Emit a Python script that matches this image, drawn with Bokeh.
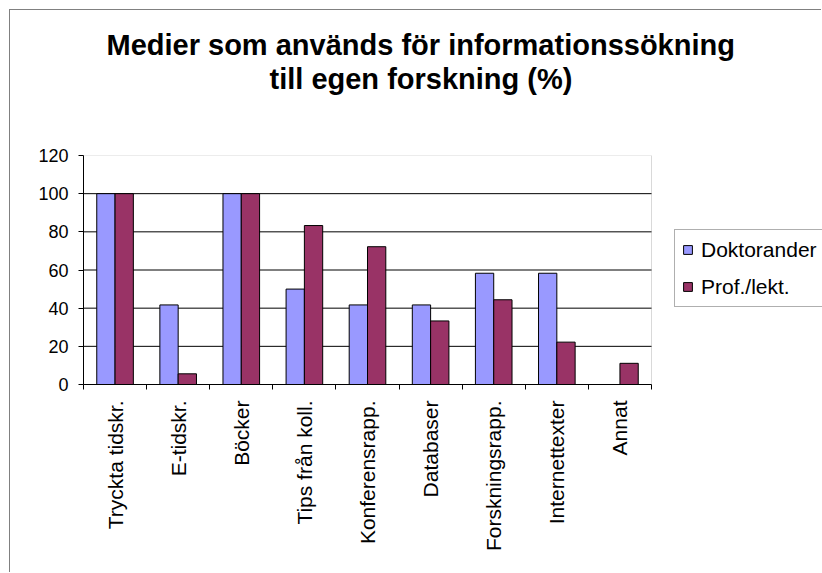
import math
from bokeh.plotting import figure
from bokeh.models import (Range1d, FixedTicker, Legend, LegendItem, Title,
                          ColumnDataSource, BoxAnnotation)
from bokeh.transform import dodge
from bokeh.embed import file_html
from bokeh.resources import INLINE

categories = ["Tryckta tidskr.", "E-tidskr.", "Böcker", "Tips från koll.",
              "Konferensrapp.", "Databaser", "Forskningsrapp.", "Internettexter", "Annat"]
doktorander = [100, 41.7, 100, 50, 41.7, 41.7, 58.3, 58.3, 0]
prof_lekt = [100, 5.6, 100, 83.3, 72.2, 33.3, 44.4, 22.2, 11.1]
y_ticks = [0, 20, 40, 60, 80, 100, 120]
title_lines = ["Medier som används för informationssökning", "till egen forskning (%)"]

FONT = "Liberation Sans"
n = len(categories)
y_max = y_ticks[-1]
centers = [i + 0.5 for i in range(n)]  # category slot centres on the x scale
grid_vals = y_ticks[1:-1]

# plot area is 568px wide inside a 739px frame (legend lives to its right)
PLOT_W, FRAME_W = 568, 739

src = ColumnDataSource(dict(pos=centers, cat=categories, dok=doktorander, prof=prof_lekt))

p = figure(width=812, height=563, x_range=Range1d(0, n * FRAME_W / PLOT_W),
           y_range=Range1d(0, y_max), title=None,
           output_backend="svg", toolbar_location=None,
           min_border_left=73, min_border_right=0, min_border_top=145,
           min_border_bottom=189)
p.styles = {"margin-left": "9px", "margin-top": "9px",
            "border-left": "1px solid #808080", "border-top": "1px solid #808080"}
p.background_fill_color = "white"
p.border_fill_color = "white"
p.outline_line_color = None

# plot-area border
p.add_layout(BoxAnnotation(left=0, right=n, bottom=0, top=y_max, fill_color=None,
                           line_color="#808080", line_width=1, level="underlay"))

# gridlines limited to the plot area (drawn before the bars)
p.segment(x0=[0] * len(grid_vals), x1=[n] * len(grid_vals), y0=grid_vals, y1=grid_vals,
          line_color="black", line_width=1)
p.ygrid.grid_line_color = None
p.xgrid.grid_line_color = None

# bars
r1 = p.vbar(x=dodge("pos", -0.145), top="dok", width=0.29,
            source=src, fill_color="#9999FF", line_color="black", line_width=1)
r2 = p.vbar(x=dodge("pos", 0.145), top="prof", width=0.29,
            source=src, fill_color="#993366", line_color="black", line_width=1)

# y axis
yax = p.yaxis[0]
yax.ticker = FixedTicker(ticks=y_ticks)
yax.major_tick_out = 5
yax.major_tick_in = 0
yax.minor_tick_out = 0
yax.minor_tick_in = 0
yax.axis_line_color = "black"
yax.major_tick_line_color = "black"
yax.major_label_text_font = FONT
yax.major_label_text_font_size = "18px"
yax.major_label_text_color = "black"
yax.major_label_standoff = 10

# x axis: ticks at category boundaries, labels at centres
xax = p.xaxis[0]
xax.bounds = (0, n)
xax.ticker = FixedTicker(ticks=centers, minor_ticks=list(range(n + 1)))
xax.major_label_overrides = {c: lab for c, lab in zip(centers, categories)}
xax.major_tick_out = 0
xax.major_tick_in = 0
xax.minor_tick_out = 5
xax.minor_tick_in = 0
xax.minor_tick_line_color = "black"
xax.axis_line_color = "black"
xax.major_label_orientation = math.pi / 2
xax.major_label_text_font = FONT
xax.major_label_text_font_size = "21px"
xax.major_label_text_color = "black"
xax.major_label_standoff = 11

# spacer between frame and title, then title lines (nearest first)
p.add_layout(Title(text=" ", text_font_size="1px", standoff=58), "above")
for txt, off in [(title_lines[1], 186), (title_lines[0], 23)]:
    p.add_layout(Title(text=txt, align="left", offset=off, standoff=0,
                       text_font=FONT, text_font_size="29px", text_font_style="bold",
                       text_color="black"), "above")

legend = Legend(items=[LegendItem(label="Doktorander", renderers=[r1]),
                       LegendItem(label="Prof./lekt.", renderers=[r2])],
                location=(591, 77))
legend.border_line_color = "#606060"
legend.border_line_width = 1
legend.background_fill_color = "white"
legend.background_fill_alpha = 1
legend.label_text_font = FONT
legend.label_text_font_size = "21px"
legend.label_text_color = "black"
legend.glyph_width = 11
legend.glyph_height = 11
legend.label_standoff = 8
legend.padding = 7
legend.spacing = 12
legend.label_height = 25
legend.margin = 0
p.add_layout(legend, "center")

open("out.html", "w").write(file_html(p, INLINE))
